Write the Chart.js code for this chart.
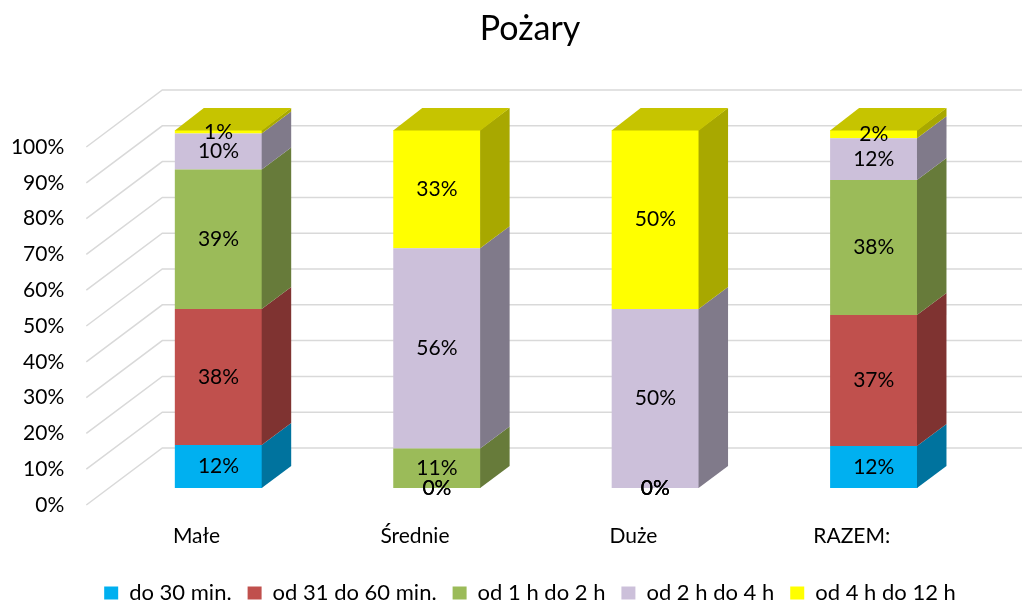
<!DOCTYPE html>
<html>
<head>
<meta charset="utf-8">
<script src="https://cdn.jsdelivr.net/npm/chart.js@4"></script>
<style>
  html, body { margin: 0; padding: 0; background: #fff; }
  #wrap { width: 1022px; height: 603px; position: relative; }
</style>
</head>
<body>
<div id="wrap"><canvas id="chart"></canvas></div>
<script>
// data (share of fires per duration, %)
const categories = ['Małe', 'Średnie', 'Duże', 'RAZEM:'];
const seriesNames = ['do 30 min.', 'od 31 do 60 min.', 'od 1 h do 2 h', 'od 2 h do 4 h', 'od 4 h do 12 h'];
const do30min = [12, 0, 0, 11.7];
const od31do60 = [38, 0, 0, 36.6];
const od1hdo2h = [39, 11, 0, 37.7];
const od2hdo4h = [10, 56, 50, 11.7];
const od4hdo12h = [1, 33, 50, 2.3];
const yTickValues = [0, 10, 20, 30, 40, 50, 60, 70, 80, 90, 100];

// styles
const FONT = 'Lato';
const TICK_SIZE = 21;
const frontColors = ['#00B0F0', '#C0504D', '#9BBB59', '#CCC0DA', '#FFFF00'];
const sideColors = ['#00739E', '#7F3331', '#677B3A', '#807A8A', '#A8A800'];
const topColors = ['#008AC0', '#98403D', '#7C9647', '#A39AAE', '#C6C400'];
const DX = 29, DY = 22;          // bar depth
const WALL_X = 76, WALL_Y = 57;  // back wall depth
const FLOOR_SHIFT = 17;          // front edge of floor below bar base
const LABEL_GAP = 45;            // y labels right edge to plot

const seriesValues = [do30min, od31do60, od1hdo2h, od2hdo4h, od4hdo12h];

// widest y label, so the mirrored labels can be pushed back left of the plot
const mctx = document.createElement('canvas').getContext('2d');
mctx.font = TICK_SIZE + 'px ' + FONT;
const widest = Math.max(...yTickValues.map(v => mctx.measureText(v + '%').width));

const bar3d = {
    id: 'bar3d',
    beforeDatasetsDraw(chart) {
        const { ctx, chartArea } = chart;
        const y = chart.scales.y;
        const x0 = chartArea.left - 23;
        ctx.save();
        ctx.strokeStyle = '#d9d9d9';
        ctx.lineWidth = 1.5;
        y.ticks.forEach(t => {
            const py = y.getPixelForValue(t.value) + FLOOR_SHIFT;
            ctx.beginPath();
            ctx.moveTo(x0, py);
            ctx.lineTo(x0 + WALL_X, py - WALL_Y);
            ctx.lineTo(chart.width, py - WALL_Y);
            ctx.stroke();
        });
        ctx.restore();
    },
    afterDatasetsDraw(chart) {
        const { ctx } = chart;
        const n = chart.data.labels.length;
        ctx.save();
        for (let i = 0; i < n; i++) {
            let top = null;
            chart.data.datasets.forEach((ds, d) => {
                const el = chart.getDatasetMeta(d).data[i];
                const p = el.getProps(['x', 'y', 'base', 'width'], true);
                if (!(ds.data[i] > 0)) return;
                const r = p.x + p.width / 2;
                ctx.fillStyle = sideColors[d];
                ctx.beginPath();
                ctx.moveTo(r - 0.5, p.y);
                ctx.lineTo(r + DX, p.y - DY);
                ctx.lineTo(r + DX, p.base - DY);
                ctx.lineTo(r - 0.5, p.base);
                ctx.closePath();
                ctx.fill();
                top = { p, d };
            });
            if (top) {
                const { p, d } = top;
                const l = p.x - p.width / 2, r = p.x + p.width / 2;
                ctx.fillStyle = topColors[d];
                ctx.beginPath();
                ctx.moveTo(l, p.y + 0.5);
                ctx.lineTo(l + DX, p.y - DY);
                ctx.lineTo(r + DX, p.y - DY);
                ctx.lineTo(r, p.y + 0.5);
                ctx.closePath();
                ctx.fill();
            }
        }
        // data labels
        ctx.fillStyle = '#000';
        ctx.font = TICK_SIZE + 'px ' + FONT;
        ctx.textAlign = 'center';
        ctx.textBaseline = 'middle';
        chart.data.datasets.forEach((ds, d) => {
            chart.getDatasetMeta(d).data.forEach((el, i) => {
                const p = el.getProps(['x', 'y', 'base'], true);
                ctx.fillText(Math.round(ds.data[i]) + '%', p.x, (p.y + p.base) / 2);
            });
        });
        ctx.restore();
    }
};

new Chart(document.getElementById('chart'), {
    type: 'bar',
    data: {
        labels: categories,
        datasets: seriesNames.map((name, d) => ({
            label: name,
            data: seriesValues[d],
            backgroundColor: frontColors[d],
            borderWidth: 0,
            barPercentage: 0.4,
            categoryPercentage: 1
        }))
    },
    options: {
        responsive: true,
        maintainAspectRatio: false,
        animation: false,
        layout: { padding: { left: 77, right: 39, top: 0, bottom: -11 } },
        scales: {
            x: {
                stacked: true,
                grid: { display: false, drawTicks: false },
                border: { display: false },
                ticks: { color: '#000', font: { family: FONT, size: TICK_SIZE }, padding: 36, labelOffset: -22 },
                afterFit(s) { s.height = 78; }
            },
            y: {
                stacked: true,
                min: 0,
                max: 100,
                grid: { display: false, drawTicks: false },
                border: { display: false },
                ticks: {
                    color: '#000', font: { family: FONT, size: TICK_SIZE },
                    mirror: true, crossAlign: 'far',
                    padding: -LABEL_GAP - widest, labelOffset: FLOOR_SHIFT,
                    callback: v => v + '%'
                },
                afterBuildTicks(s) { s.ticks = yTickValues.map(v => ({ value: v })); },
                afterFit(s) { s.width = 32.3; }
            }
        },
        plugins: {
            title: {
                display: true, text: 'Pożary', color: '#000',
                font: { family: FONT, size: 34, weight: 'normal' },
                padding: { top: 9, bottom: 80.2 }
            },
            legend: {
                position: 'bottom',
                labels: {
                    color: '#000', boxWidth: 14, boxHeight: 13, padding: 16,
                    font: { family: FONT, size: 22 }
                }
            },
            tooltip: { enabled: false }
        }
    },
    plugins: [bar3d]
});
</script>
</body>
</html>
